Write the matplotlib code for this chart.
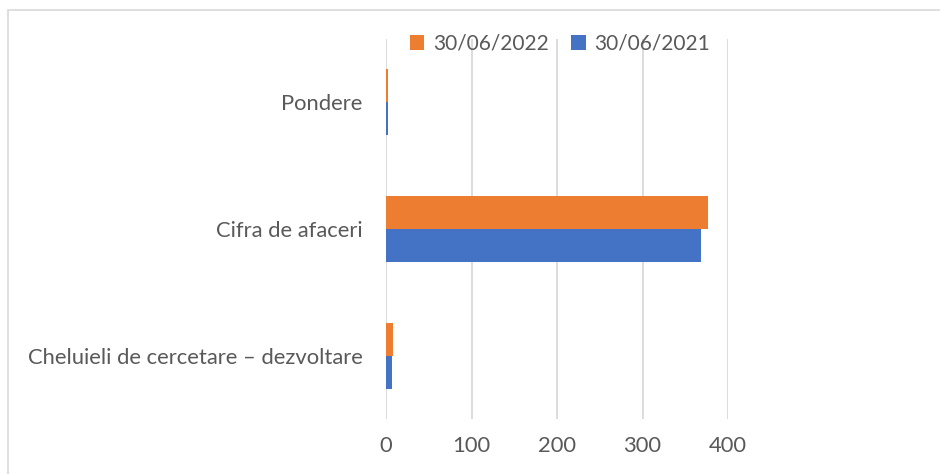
import matplotlib
matplotlib.use('Agg')
import matplotlib.pyplot as plt
from matplotlib.patches import Rectangle
import numpy as np

categories = ['Cheluieli de cercetare – dezvoltare', 'Cifra de afaceri', 'Pondere']
series_names = ['30/06/2021', '30/06/2022']
values_2021 = [7.4, 368, 2.0]
values_2022 = [8.6, 377, 2.2]
x_ticks = [0, 100, 200, 300, 400]

blue = '#4472C4'
orange = '#ED7D31'
text_col = '#595959'
grid_col = '#D9D9D9'

plt.rcParams['font.family'] = ['Lato', 'DejaVu Sans']

fig = plt.figure(figsize=(9.4, 4.74), dpi=100)
ax = fig.add_axes([386 / 940, 1 - 419 / 474, (728 - 386) / 940, (419 - 39) / 474])

y = np.arange(len(categories))
h = 0.26
b1 = ax.barh(y - h / 2, values_2021, height=h, color=blue, label=series_names[0], zorder=3)
b2 = ax.barh(y + h / 2, values_2022, height=h, color=orange, label=series_names[1], zorder=3)

ax.set_xlim(0, 400)
ax.set_ylim(-0.5, len(categories) - 0.5)
ax.set_xticks(x_ticks)
ax.set_yticks(y)
ax.set_yticklabels(categories)
ax.tick_params(axis='both', length=0, labelsize=15.8, colors=text_col)
ax.tick_params(axis='y', pad=17)
ax.tick_params(axis='x', pad=12)
ax.grid(axis='x', color=grid_col, linewidth=1.3, zorder=0)
for s in ax.spines.values():
    s.set_visible(False)

fig.legend([b2, b1], [series_names[1], series_names[0]], loc='center',
           bbox_to_anchor=(560 / 940, 1 - 44 / 474), ncol=2, frameon=False,
           fontsize=15, labelcolor=text_col, handlelength=0.7, handleheight=0.7,
           handletextpad=0.4, columnspacing=1.1)

# outer chart border
fig.patches.append(Rectangle((8 / 940, -0.1), 1.2, 1 - 10 / 474 + 0.1, transform=fig.transFigure,
                             fill=False, edgecolor='#D9D9D9', linewidth=1.2))

fig.savefig('out.png', dpi=100)
